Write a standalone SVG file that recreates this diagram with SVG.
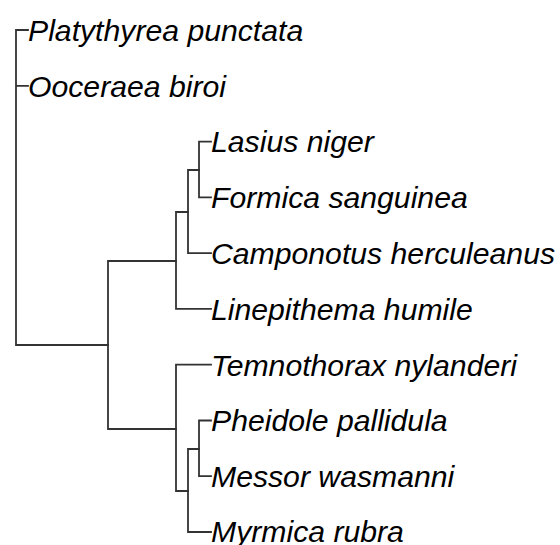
<svg xmlns="http://www.w3.org/2000/svg" width="560" height="545" viewBox="0 0 560 545">
<style>
.e{fill:none;stroke:#333;stroke-width:1.8;stroke-linecap:square}
.t{font-family:"Liberation Sans",Arial,sans-serif;font-style:italic;font-size:30.2px;fill:#000}
</style>
<rect width="560" height="545" fill="#fff"/>
<g id="edges">
<path class="e" d="M16,30V345M16,30H28M16,85.8H28M16,345H108"/>
<path class="e" d="M108,261V429M108,261H176M108,429H176"/>
<path class="e" d="M176,212V308.9M176,212H188M176,308.9H211"/>
<path class="e" d="M188,170V253.1M188,170H199M188,253.1H211"/>
<path class="e" d="M199,141.6V197.3M199,141.6H211M199,197.3H211"/>
<path class="e" d="M176,364.7V491M176,364.7H211M176,491H188"/>
<path class="e" d="M188,449V532M188,449H199M188,532H211"/>
<path class="e" d="M199,420.5V476.2M199,420.5H211M199,476.2H211"/>
</g>
<g id="n1"><text class="t" x="28" y="40.8">Platythyrea punctata</text></g>
<g id="n2"><text class="t" x="28" y="96.6">Ooceraea biroi</text></g>
<g id="n3"><text class="t" x="211" y="152.4">Lasius niger</text></g>
<g id="n4"><text class="t" x="211" y="208.1">Formica sanguinea</text></g>
<g id="n5"><text class="t" x="211" y="263.9">Camponotus herculeanus</text></g>
<g id="n6"><text class="t" x="211" y="319.7">Linepithema humile</text></g>
<g id="n7"><text class="t" x="211" y="375.5">Temnothorax nylanderi</text></g>
<g id="n8"><text class="t" x="211" y="431.3">Pheidole pallidula</text></g>
<g id="n9"><text class="t" x="211" y="487">Messor wasmanni</text></g>
<g id="n10"><text class="t" x="211" y="542.3">Myrmica rubra</text></g>
</svg>
